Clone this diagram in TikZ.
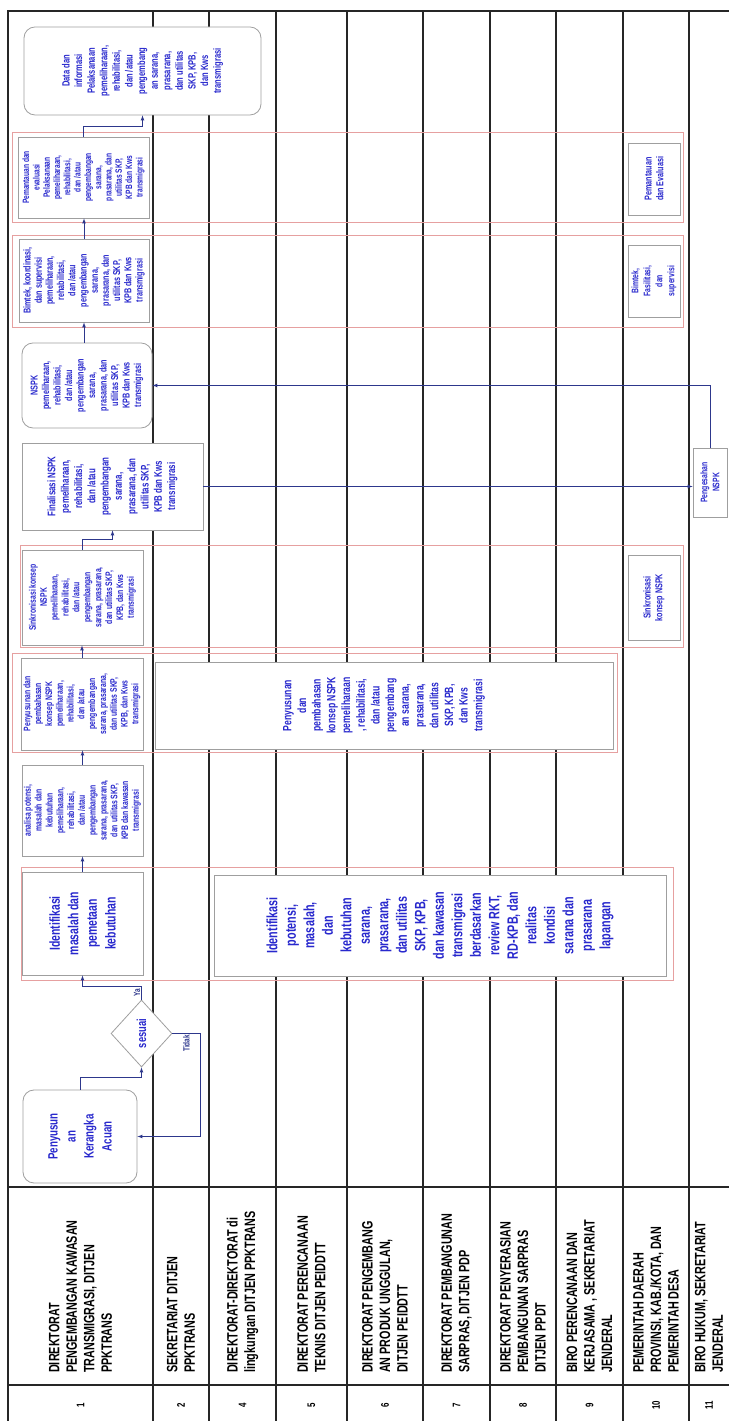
\documentclass[tikz,border=0pt]{standalone}
\usepackage{fontspec}
\setmainfont{Liberation Sans}[FakeStretch=0.72]
\usetikzlibrary{arrows,shapes.geometric}

\definecolor{actblue}{RGB}{40,40,205}
\definecolor{linkblue}{RGB}{45,55,140}
\definecolor{grpred}{RGB}{230,160,160}

\newcommand{\fsz}[2]{\fontsize{#1}{#2}\selectfont\bfseries}

\tikzset{
  lane/.style={draw=black!85,line width=1.1pt},
  grp/.style={draw=grpred,line width=.7pt},
  act/.style={draw=gray!75,line width=.8pt,fill=white,text=actblue,align=center,inner sep=1pt},
  term/.style={act,rounded corners=11pt},
  decide/.style={act,diamond,inner sep=0pt},
  flow/.style={draw=linkblue,line width=.7pt,-latex},
  answer/.style={text=linkblue,font=\fsz{9}{10},inner sep=1pt},
  lanelbl/.style={anchor=west,align=left,inner sep=0pt,font=\fsz{15}{17.5}},
  lanenum/.style={font=\fsz{11}{13}}
}

\begin{document}
\begin{tikzpicture}[line cap=round]
  \fill[white] (0,0) rectangle (728pt,1421pt);
  \useasboundingbox (0,0) rectangle (728pt,1421pt);

  \begin{scope}[x=1pt,y=1pt,shift={(728pt,0pt)},rotate=90,transform shape]
  % swimlanes
  \draw[lane] (-10,720) -- (1410,720) -- (1410,-40);
  \foreach \v in {575,519,452,381,305,238,172,105,39}
    \draw[lane] (-10,\v) -- (1410,\v);
  \draw[lane] (36,-40) -- (36,720);
  \draw[lane] (234,-40) -- (234,720);

  \foreach \ctr/\nr/\txt in {
    647.5/1/{DIREKTORAT\\PENGEMBANGAN KAWASAN\\TRANSMIGRASI, DITJEN\\PPKTRANS},
    547/2/{SEKRETARIAT DITJEN\\PPKTRANS},
    485.5/4/{DIREKTORAT-DIREKTORAT di\\lingkungan DITJEN PPKTRANS},
    416.5/5/{DIREKTORAT PERENCANAAN\\TEKNIS DITJEN PEIDDTT},
    343/6/{DIREKTORAT PENGEMBANG\\AN PRODUK UNGGULAN,\\DITJEN PEIDDTT},
    271.5/7/{DIREKTORAT PEMBANGUNAN\\SARPRAS, DITJEN PDP},
    205/8/{DIREKTORAT PENYERASIAN\\PEMBANGUNAN SARPRAS\\DITJEN PPDT},
    138.5/9/{BIRO PERENCANAAN DAN\\KERJASAMA , SEKRETARIAT\\JENDERAL},
    72/10/{PEMERINTAH DAERAH\\PROVINSI, KAB./KOTA, DAN\\PEMERINTAH DESA},
    19/11/{BIRO HUKUM, SEKRETARIAT\\JENDERAL}}{
    \node[lanenum] (num\nr) at (16,\ctr) {\nr};
    \node[lanelbl] (lbl\nr) at (48,\ctr) {\txt};
  }

  % kegiatan bersama
  \draw[grp] (441,55) rectangle (554,707);
  \draw[grp] (669,111) rectangle (768,716);
  \draw[grp] (774,45) rectangle (876,708);
  \draw[grp] (1094,45) rectangle (1186,716);
  \draw[grp] (1199,45) rectangle (1289,716);

  \node[term,font=\fsz{13.5}{18},minimum width=93,minimum height=114] (kak) at (284.5,648)
    {Penyusun\\an\\Kerangka\\Acuan};
  \node[decide,font=\fsz{13}{15},minimum width=67,minimum height=61] (cek) at (387.5,586.5) {sesuai};
  \node[act,font=\fsz{14.5}{18.6},minimum width=103,minimum height=121] (ident1) at (497.5,645.5)
    {Identifikasi\\masalah dan\\pemetaan\\kebutuhan};
  \node[act,font=\fsz{15}{18.5},minimum width=101,minimum height=452] (ident2) at (495.5,288)
    {Identifikasi\\potensi,\\masalah,\\dan\\kebutuhan\\sarana,\\prasarana,\\dan utilitas\\SKP, KPB,\\dan kawasan\\transmigrasi\\berdasarkan\\review RKT,\\RD-KPB, dan\\realitas\\kondisi\\sarana dan\\prasarana\\lapangan};
  \node[act,font=\fsz{9.5}{10.8},minimum width=91,minimum height=121] (anl) at (610.5,645.5)
    {analisa potensi,\\masalah dan\\kebutuhan\\pemeliharaan,\\rehabilitasi,\\dan /atau\\pengembangan\\sarana, prasarana,\\dan utilitas SKP,\\KPB dan kawasan\\transmigrasi};
  \node[act,font=\fsz{9.5}{10.8},minimum width=92,minimum height=122] (sus1) at (717,646)
    {Penyusunan dan\\pembahasan\\konsep NSPK\\pemeliharaan,\\rehabilitasi,\\dan /atau\\pengembangan\\sarana, prasarana,\\dan utilitas SKP,\\KPB, dan Kws\\transmigrasi};
  \node[act,font=\fsz{12}{14.7},minimum width=87,minimum height=458] (sus2) at (715.5,344)
    {Penyusunan\\dan\\pembahasan\\konsep NSPK\\pemeliharaan\\, rehabilitasi,\\dan /atau\\pengembang\\an sarana,\\prasarana,\\dan utilitas\\SKP, KPB,\\dan Kws\\transmigrasi};
  \node[act,font=\fsz{9.5}{10.9},minimum width=95,minimum height=121] (sin1) at (823.5,645.5)
    {Sinkronisasi konsep\\NSPK\\pemeliharaan,\\rehabilitasi,\\dan /atau\\pengembangan\\sarana, prasarana,\\dan utilitas SKP,\\KPB, dan Kws\\transmigrasi};
  \node[act,font=\fsz{10}{11.7},minimum width=85,minimum height=52] (sin2) at (823.5,74)
    {Sinkronisasi\\konsep NSPK};
  \node[act,font=\fsz{11}{13.3},minimum width=87,minimum height=181] (fin) at (934.5,615.5)
    {Finalisasi NSPK\\pemeliharaan,\\rehabilitasi,\\dan /atau\\pengembangan\\sarana,\\prasarana, dan\\utilitas SKP,\\KPB dan Kws\\transmigrasi};
  \node[act,font=\fsz{9.5}{12},minimum width=69,minimum height=34] (sah) at (938.5,18)
    {Pengesahan\\NSPK};
  \node[term,font=\fsz{10}{11.5},minimum width=85,minimum height=130] (nspk) at (1035.5,641)
    {NSPK\\pemeliharaan,\\rehabilitasi,\\dan /atau\\pengembangan\\sarana,\\prasarana, dan\\utilitas SKP,\\KPB dan Kws\\transmigrasi};
  \node[act,font=\fsz{10}{11.2},minimum width=83,minimum height=130] (bim1) at (1140.5,644)
    {Bimtek, koordinasi,\\dan supervisi\\pemeliharaan,\\rehabilitasi,\\dan /atau\\pengembangan\\sarana,\\prasarana, dan\\utilitas SKP,\\KPB dan Kws\\transmigrasi};
  \node[act,font=\fsz{9.5}{12},minimum width=72,minimum height=52] (bim2) at (1140,74)
    {Bimtek,\\Fasilitasi,\\dan\\supervisi};
  \node[act,font=\fsz{9.2}{10.3},minimum width=81,minimum height=131] (pem1) at (1243.5,644.5)
    {Pemantauan dan\\evaluasi\\Pelaksanaan\\pemeliharaan,\\rehabilitasi,\\dan /atau\\pengembangan\\sarana,\\prasarana, dan\\utilitas SKP,\\KPB dan Kws\\transmigrasi};
  \node[act,font=\fsz{10}{11.7},minimum width=72,minimum height=52] (pem2) at (1242,74)
    {Pemantauan\\dan Evaluasi};
  \node[term,font=\fsz{10.5}{12.6},minimum width=88,minimum height=237] (data) at (1350,585.5)
    {Data dan\\informasi\\Pelaksanaan\\pemeliharaan,\\rehabilitasi,\\dan /atau\\pengembang\\an sarana,\\prasarana,\\dan utilitas\\SKP, KPB,\\dan Kws\\transmigrasi};

  % alur
  \draw[flow] (kak.east) -- ++(12,0) |- (cek.west);
  \draw[flow] (cek.south) -- node[answer,midway,left] (tidak) {Tidak} ++(0,-28) -| (kak.south);
  \draw[flow] (cek.east) -- node[answer,above] (ya) {Ya} ++(13,0) |- (ident1.west);
  \draw[flow] (ident1.east) -- (anl.west);
  \draw[flow] (anl.east) -- (anl.east -| sus1.west);
  \draw[flow] (sus1.east) -- (sus1.east -| sin1.west);
  \draw[flow] (sin1.east) -- ++(10,0) |- (fin.west);
  \draw[flow] (fin.south) -- (fin.south |- sah.north);
  \draw[flow] (sah.east) -| (nspk.south);
  \draw[flow] (nspk.east |- bim1.west) -- (bim1.west);
  \draw[flow] (bim1.east) -- (bim1.east -| pem1.west);
  \draw[flow] (pem1.east) -- ++(10,0) |- (data.west);
  \end{scope}
\end{tikzpicture}
\end{document}
